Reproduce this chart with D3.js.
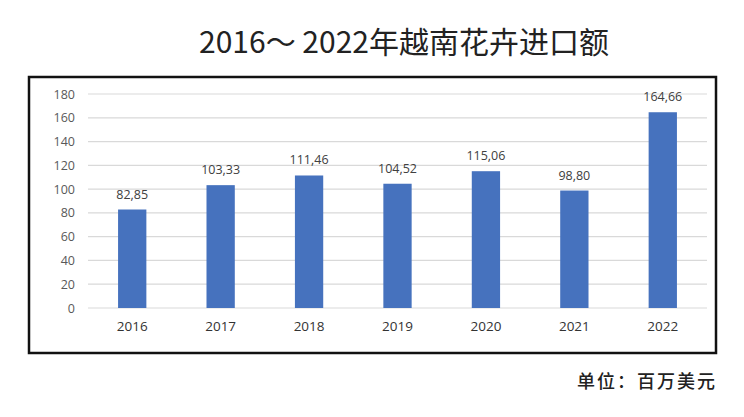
<!DOCTYPE html>
<html><head><meta charset="utf-8">
<script src="https://cdn.jsdelivr.net/npm/d3@7"></script>
<style>body{margin:0;background:#fff;} svg{display:block;}</style>
</head><body>
<script>
const categories = ["2016","2017","2018","2019","2020","2021","2022"];
const values = [82.85,103.33,111.46,104.52,115.06,98.80,164.66];
const valueLabels = ["82,85","103,33","111,46","104,52","115,06","98,80","164,66"];
const yTicks = [0,20,40,60,80,100,120,140,160,180];
const title = "2016～ 2022年越南花卉进口额";
const unitLabel = "单位：百万美元";

const W = 744, H = 417;
const svg = d3.select("body").append("svg").attr("width", W).attr("height", H);
const cjk = "'Noto Sans CJK SC','Noto Sans',sans-serif";
const latin = "'Open Sans','Noto Sans',sans-serif";

svg.append("text").attr("x", 404).attr("y", 53).attr("text-anchor","middle")
  .attr("font-family", cjk).attr("font-size", 30).attr("fill","#222").text(title);

// frame
svg.append("rect").attr("x", 29).attr("y", 77).attr("width", 687).attr("height", 276)
  .attr("fill","none").attr("stroke","#111").attr("stroke-width",2.5);

const x = d3.scaleBand().domain(categories).range([88, 707]).paddingInner(0.68).paddingOuter(0.34);
const y = d3.scaleLinear().domain([0,180]).range([308, 94]);

const grid = svg.append("g");
grid.selectAll("line").data(yTicks).join("line")
  .attr("x1", 88).attr("x2", 707).attr("y1", d=>y(d)).attr("y2", d=>y(d))
  .attr("stroke","#d9d9d9").attr("stroke-width",1.2);

const yAxis = svg.append("g").attr("transform","translate(88,0)")
  .call(d3.axisLeft(y).tickValues(yTicks).tickSize(0).tickPadding(13));
yAxis.select(".domain").remove();
yAxis.selectAll("text").attr("font-family", latin).attr("font-size", 12.5).attr("fill","#595959");

const xAxis = svg.append("g").attr("transform","translate(0,308)")
  .call(d3.axisBottom(x).tickSize(0).tickPadding(13));
xAxis.select(".domain").remove();
xAxis.selectAll("text").attr("font-family", latin).attr("font-size", 13.5).attr("fill","#333");

svg.append("g").selectAll("rect").data(values).join("rect")
  .attr("x",(d,i)=>x(categories[i])).attr("width", x.bandwidth())
  .attr("y", d=>y(d)).attr("height", d=>y(0)-y(d)).attr("fill","#4672be");

svg.append("g").selectAll("text").data(values).join("text")
  .attr("x",(d,i)=>x(categories[i])+x.bandwidth()/2).attr("y", d=>y(d)-11)
  .attr("text-anchor","middle").attr("font-family", latin).attr("font-size",12.5)
  .attr("fill","#404040").text((d,i)=>valueLabels[i]);

svg.append("text").attr("x", 717).attr("y", 388).attr("text-anchor","end")
  .attr("font-family", cjk).attr("font-size", 18).attr("letter-spacing", 2).attr("font-weight",500).attr("fill","#222").text(unitLabel);
</script>
</body></html>
